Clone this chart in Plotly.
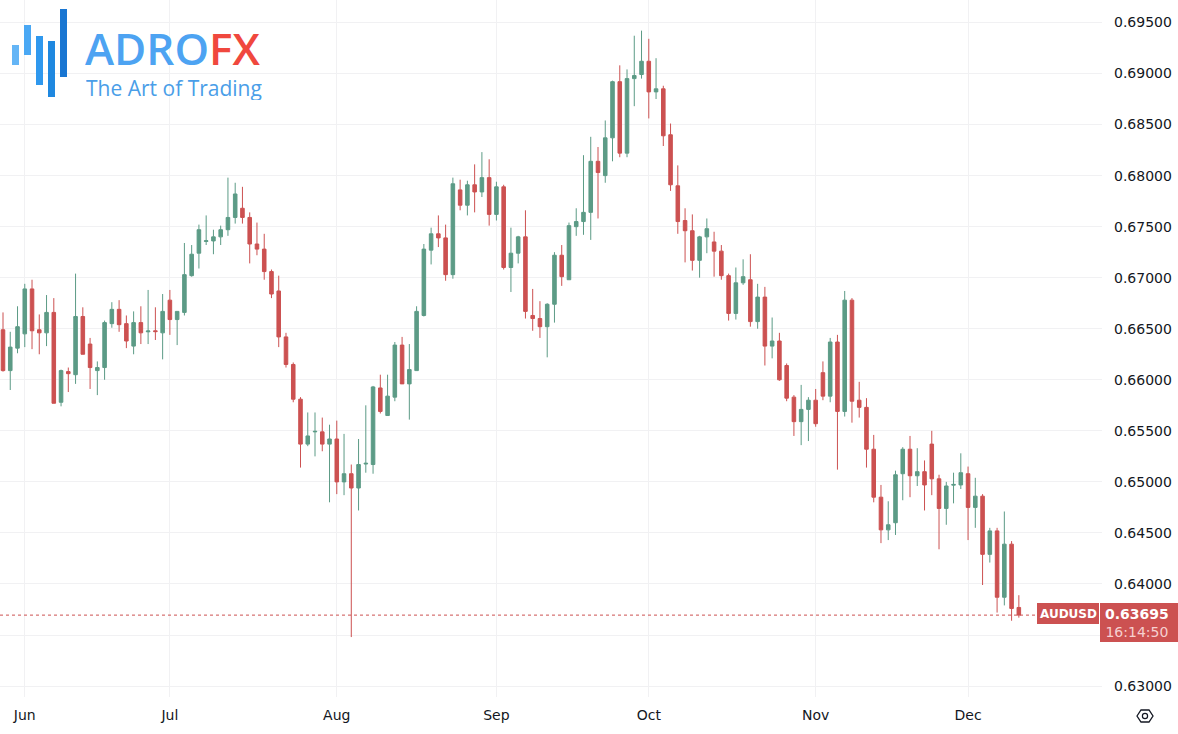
import pandas as pd
import plotly.graph_objects as go

# ---------------- data (AUDUSD daily) ----------------
dates = [d.strftime("%Y-%m-%d") for d in pd.bdate_range("2024-05-29", "2024-12-11")]

opens = [0.6649, 0.6609, 0.6631, 0.6645, 0.6689, 0.6649, 0.6646, 0.6666, 0.6578, 0.6608,
         0.6605, 0.6662, 0.6635, 0.6609, 0.6612, 0.6655, 0.6669, 0.6655, 0.6633, 0.6656,
         0.66470, 0.66480, 0.6646, 0.6678, 0.6659, 0.6666, 0.6702, 0.6724, 0.67355, 0.6736,
         0.6740, 0.6747, 0.6759, 0.6768, 0.6759, 0.6733, 0.6728, 0.6706, 0.6687, 0.6642,
         0.6615, 0.6581, 0.6537, 0.65490, 0.6549, 0.6537, 0.6542, 0.6500, 0.6508, 0.6494,
         0.65175, 0.6517, 0.6592, 0.6565, 0.6583, 0.6634, 0.6596, 0.6609, 0.6663, 0.6727,
         0.6743, 0.6739, 0.6703, 0.6786, 0.6771, 0.6791, 0.6784, 0.6798, 0.6762, 0.6789,
         0.6710, 0.6724, 0.6740, 0.6663, 0.6660, 0.6652, 0.6674, 0.6722, 0.6698, 0.6750,
         0.6755, 0.6764, 0.6814, 0.6800, 0.6837, 0.6892, 0.6822, 0.6895, 0.6899, 0.6912,
         0.6882, 0.6885, 0.6840, 0.6790, 0.6756, 0.6746, 0.6717, 0.6740, 0.6735, 0.6726,
         0.6702, 0.6665, 0.6695, 0.6698, 0.6657, 0.6681, 0.6633, 0.6638, 0.6614, 0.6583,
         0.6559, 0.6571, 0.6580, 0.6607, 0.6584, 0.6637, 0.6569, 0.6678, 0.6580, 0.6573,
         0.6532, 0.6485, 0.6453, 0.6460, 0.6508, 0.6532, 0.6506, 0.6510, 0.6537, 0.6503,
         0.6474, 0.64968, 0.6497, 0.6508, 0.6475, 0.6486, 0.6429, 0.6452, 0.6387, 0.6439,
         0.6377]
highs = [0.6666, 0.6647, 0.6672, 0.6694, 0.6698, 0.6664, 0.6683, 0.6680, 0.6610, 0.6612,
         0.6704, 0.6671, 0.6641, 0.6618, 0.6658, 0.6676, 0.6678, 0.6663, 0.6667, 0.6672,
         0.6688, 0.6671, 0.6684, 0.6688, 0.6667, 0.6734, 0.6732, 0.6752, 0.6761, 0.6747,
         0.6751, 0.6798, 0.6793, 0.6789, 0.6764, 0.6754, 0.6743, 0.6708, 0.6702, 0.6646,
         0.6617, 0.6583, 0.6568, 0.6568, 0.6563, 0.6556, 0.6560, 0.6547, 0.6517, 0.6542,
         0.6575, 0.6594, 0.6605, 0.6605, 0.6637, 0.6642, 0.6635, 0.6672, 0.6733, 0.6749,
         0.6761, 0.6752, 0.6798, 0.6796, 0.6795, 0.6811, 0.6823, 0.6816, 0.6794, 0.6791,
         0.6749, 0.6741, 0.6766, 0.6689, 0.6677, 0.6675, 0.6725, 0.6732, 0.6754, 0.6768,
         0.6820, 0.6838, 0.6828, 0.6854, 0.6893, 0.6908, 0.6904, 0.6937, 0.6942, 0.6934,
         0.6915, 0.6888, 0.6851, 0.6810, 0.6768, 0.6762, 0.6741, 0.6758, 0.6745, 0.6732,
         0.6704, 0.6710, 0.6718, 0.6723, 0.6694, 0.6691, 0.6661, 0.6646, 0.6616, 0.6585,
         0.6595, 0.6583, 0.6591, 0.6618, 0.6641, 0.6644, 0.6687, 0.6680, 0.6598, 0.6582,
         0.6546, 0.6497, 0.6481, 0.6511, 0.6534, 0.6545, 0.6533, 0.6521, 0.6550, 0.6507,
         0.6500, 0.6509, 0.6528, 0.6515, 0.6504, 0.6488, 0.6455, 0.6455, 0.6471, 0.6442,
         0.6389]
lows = [0.6608, 0.6590, 0.6626, 0.6632, 0.6630, 0.6625, 0.6633, 0.6577, 0.6574, 0.6588,
        0.6596, 0.6625, 0.6591, 0.6585, 0.6600, 0.6651, 0.6647, 0.6631, 0.6625, 0.6635,
        0.6635, 0.6639, 0.6620, 0.6644, 0.6634, 0.6663, 0.6701, 0.6709, 0.6732, 0.6723,
        0.6732, 0.6741, 0.6753, 0.6753, 0.6714, 0.6722, 0.6698, 0.6680, 0.6632, 0.6612,
        0.6578, 0.6514, 0.6535, 0.6525, 0.6530, 0.6480, 0.6488, 0.6487, 0.6348, 0.6472,
        0.6509, 0.6508, 0.6567, 0.6565, 0.6579, 0.6596, 0.6561, 0.6609, 0.6662, 0.6713,
        0.6730, 0.6697, 0.6699, 0.6766, 0.6761, 0.6764, 0.6779, 0.6751, 0.6756, 0.6708,
        0.6686, 0.6714, 0.6660, 0.6648, 0.6641, 0.6622, 0.6656, 0.6692, 0.6698, 0.6741,
        0.6742, 0.6737, 0.6758, 0.6793, 0.6814, 0.6818, 0.6818, 0.6868, 0.6895, 0.6856,
        0.6875, 0.6829, 0.6785, 0.6743, 0.6715, 0.6707, 0.6700, 0.6724, 0.6701, 0.6698,
        0.6658, 0.6659, 0.6693, 0.6652, 0.6650, 0.6614, 0.6621, 0.6599, 0.6579, 0.6545,
        0.6536, 0.6540, 0.6554, 0.6580, 0.6578, 0.6512, 0.6564, 0.6558, 0.6563, 0.6514,
        0.6480, 0.6440, 0.6443, 0.6448, 0.6482, 0.6485, 0.6496, 0.6472, 0.6487, 0.6434,
        0.6458, 0.6479, 0.6493, 0.6443, 0.6455, 0.6399, 0.6421, 0.6372, 0.6379, 0.6364,
        0.6367]
closes = [0.6609, 0.6632, 0.6652, 0.6689, 0.6648, 0.6646, 0.6666, 0.6577, 0.6609, 0.6606,
          0.6662, 0.6625, 0.6612, 0.6612, 0.6656, 0.6669, 0.6654, 0.6638, 0.6656, 0.6646,
          0.66478, 0.66472, 0.6667, 0.6659, 0.6667, 0.6703, 0.6723, 0.6747, 0.67362, 0.6740,
          0.6747, 0.6759, 0.6782, 0.6759, 0.6733, 0.6728, 0.6706, 0.6684, 0.6642, 0.6615,
          0.6581, 0.6537, 0.6545, 0.65495, 0.6537, 0.6542, 0.6500, 0.6508, 0.6494, 0.6517,
          0.65182, 0.6593, 0.6569, 0.6584, 0.6634, 0.6596, 0.6610, 0.6667, 0.6728, 0.6743,
          0.6739, 0.6703, 0.6792, 0.6771, 0.6791, 0.6784, 0.6798, 0.6762, 0.6789, 0.6710,
          0.6724, 0.6740, 0.6667, 0.6660, 0.6652, 0.6674, 0.6722, 0.6701, 0.6751, 0.6755,
          0.6764, 0.6814, 0.6803, 0.6837, 0.6892, 0.6822, 0.6895, 0.6898, 0.6912, 0.6882,
          0.6885, 0.6839, 0.6791, 0.6755, 0.6746, 0.6717, 0.6740, 0.6748, 0.6726, 0.6702,
          0.6665, 0.6695, 0.6701, 0.6657, 0.6681, 0.6633, 0.6638, 0.6600, 0.6582, 0.6559,
          0.6571, 0.6580, 0.6557, 0.6584, 0.6637, 0.6569, 0.6678, 0.6579, 0.6573, 0.6532,
          0.6485, 0.6453, 0.6458, 0.6507, 0.6532, 0.6506, 0.6510, 0.6497, 0.6503, 0.6474,
          0.6496, 0.64975, 0.6509, 0.6475, 0.6486, 0.6429, 0.6452, 0.6387, 0.6439, 0.6376,
          0.63695]

month_ticks = ["2024-06-03", "2024-07-01", "2024-08-01", "2024-09-02",
               "2024-10-01", "2024-11-01", "2024-12-02"]
month_labels = ["Jun", "Jul", "Aug", "Sep", "Oct", "Nov", "Dec"]
price_ticks = [0.630, 0.635, 0.640, 0.645, 0.650, 0.655, 0.660, 0.665, 0.670,
               0.675, 0.680, 0.685, 0.690, 0.695]
hidden_ticks = [0.635]          # covered by the last-price tag in the reference
symbol = "AUDUSD"
last_price = closes[-1]
countdown = "16:14:50"

# ---------------- styling ----------------
W, H = 1178, 734
ML, MR, MT, MB = 0, 76, 0, 37
PW, PH = W - ML - MR, H - MT - MB
UP = "#5c9b86"
DOWN = "#cc5151"
GRID = "#f1f1f3"
TXT = "#131722"
FONT = "DejaVu Sans"


def px(x):
    return x / PW


def py(y):
    return 1 - y / PH


price_text = ["" if t in hidden_ticks else "%.5f" % t for t in price_ticks]

fig = go.Figure(go.Candlestick(
    x=dates, open=opens, high=highs, low=lows, close=closes,
    increasing=dict(line=dict(color=UP, width=1), fillcolor=UP),
    decreasing=dict(line=dict(color=DOWN, width=1), fillcolor=DOWN),
    whiskerwidth=0, showlegend=False, hoverinfo="x+y",
))

shapes = []
# last-price dotted line (stops at the symbol tag)
shapes.append(dict(type="line", xref="paper", yref="y", x0=0, x1=px(1037),
                   y0=last_price, y1=last_price,
                   line=dict(color=DOWN, width=1, dash="dot")))
# symbol tag
shapes.append(dict(type="rect", xref="paper", yref="paper", x0=px(1037), x1=px(1099),
                   y0=py(624), y1=py(603), fillcolor=DOWN, line=dict(width=0)))
# price tag on the axis
shapes.append(dict(type="rect", xref="paper", yref="paper", x0=px(1100), x1=px(1178),
                   y0=py(642), y1=py(603), fillcolor=DOWN, line=dict(width=0)))

# logo bars
logo_bars = [(12, 19, 45, 65, "#64b5f6"), (24, 31, 25, 55, "#4aa8f4"),
             (36, 43, 36, 85, "#2f98ee"), (48, 55, 41, 97, "#1f88e0"),
             (60, 67, 9, 77, "#1976d2")]
for x0, x1, y0, y1, c in logo_bars:
    shapes.append(dict(type="rect", xref="paper", yref="paper",
                       x0=px(x0), x1=px(x1), y0=py(y1), y1=py(y0),
                       fillcolor=c, line=dict(width=0)))

# settings icon (hexagon with a small circle) in the bottom-right corner
cx, cy = 1145, 716
hexpts = [(cx - 8, cy), (cx - 4, cy - 6), (cx + 4, cy - 6), (cx + 8, cy),
          (cx + 4, cy + 6), (cx - 4, cy + 6)]
hexpath = "M " + " L ".join("%f,%f" % (px(a), py(b)) for a, b in hexpts) + " Z"
shapes.append(dict(type="path", xref="paper", yref="paper", path=hexpath,
                   line=dict(color=TXT, width=1.3), fillcolor="rgba(0,0,0,0)"))
shapes.append(dict(type="circle", xref="paper", yref="paper",
                   x0=px(cx - 2.6), x1=px(cx + 2.6), y0=py(cy + 2.6), y1=py(cy - 2.6),
                   line=dict(color=TXT, width=1.2)))

annotations = [
    dict(xref="paper", yref="paper", x=px(83), y=py(48), xanchor="left", yanchor="middle",
         height=44, valign="middle",
         text="<span style='color:#4da3f2'>ADRO</span><span style='color:#f0483e'>FX</span>",
         showarrow=False, font=dict(family="Open Sans", size=44, color="#4da3f2", weight=600)),
    dict(xref="paper", yref="paper", x=px(84), y=py(88), xanchor="left", yanchor="middle",
         height=24, valign="middle",
         text="The Art of Trading", showarrow=False,
         font=dict(family="Open Sans", size=21, color="#4a9ee8")),
    dict(xref="paper", yref="paper", x=px(1068), y=py(614), xanchor="center", yanchor="middle",
         text=symbol, showarrow=False,
         font=dict(family=FONT, size=12, color="white", weight=600)),
    dict(xref="paper", yref="paper", x=px(1137), y=py(622.5), xanchor="center",
         yanchor="middle", align="center",
         text="<b>%.5f</b><br><span style='color:#f6d0d0'>%s</span>" % (last_price, countdown),
         showarrow=False,
         font=dict(family=FONT, size=14, color="white")),
]

fig.update_layout(
    width=W, height=H,
    margin=dict(l=ML, r=MR, t=MT, b=MB, pad=0),
    paper_bgcolor="white", plot_bgcolor="white",
    font=dict(family=FONT, size=14, color=TXT),
    shapes=shapes, annotations=annotations,
    xaxis=dict(type="category", range=[-0.414, 151.46],
               tickmode="array", tickvals=month_ticks, ticktext=month_labels,
               showgrid=True, gridcolor=GRID, gridwidth=1, zeroline=False,
               showline=False, ticks="", ticklabelstandoff=8,
               rangeslider=dict(visible=False), fixedrange=True,
               tickfont=dict(family=FONT, size=14, color=TXT)),
    yaxis=dict(side="right", range=[0.62893, 0.69720],
               tickmode="array", tickvals=price_ticks, ticktext=price_text,
               showgrid=True, gridcolor=GRID, gridwidth=1,
               zeroline=False, showline=False, ticks="", ticklabelstandoff=11,
               tickfont=dict(family=FONT, size=14, color=TXT)),
    hovermode=False,
)

fig.write_html("out.html", config={"displayModeBar": False},
               post_script="document.body.style.margin='0';"
                           "document.body.style.overflow='hidden';")
